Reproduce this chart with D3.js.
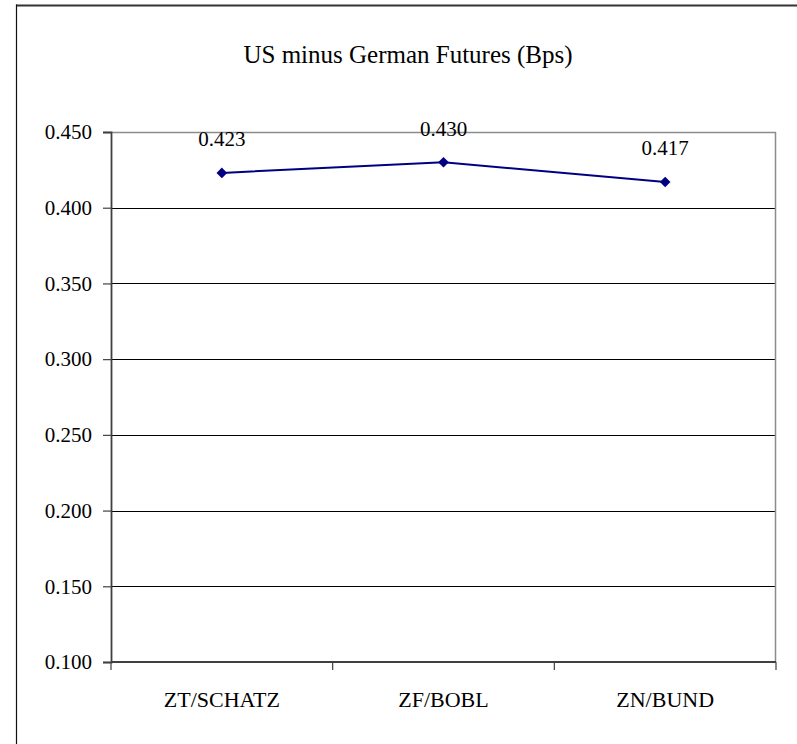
<!DOCTYPE html>
<html>
<head>
<meta charset="utf-8">
<script src="https://cdn.jsdelivr.net/npm/d3@7"></script>
<style>
  html, body { margin: 0; padding: 0; background: #fff; }
  svg { display: block; }
</style>
</head>
<body>
<svg id="chart" width="797" height="744"></svg>
<script>
// Spread of US over German futures, per contract pair
const categories = ["ZT/SCHATZ", "ZF/BOBL", "ZN/BUND"];
const spreadValues = [0.423, 0.430, 0.417];
const yTicks = [0.100, 0.150, 0.200, 0.250, 0.300, 0.350, 0.400, 0.450];
const titleText = "US minus German Futures (Bps)";

const FONT = "Liberation Serif";
const svg = d3.select("#chart");
const W = 797, H = 744;
const plot = { left: 111, right: 776, top: 132, bottom: 662 };

// Outer frame (top and left edges)
svg.append("line").attr("x1", 16).attr("x2", W).attr("y1", 5.5).attr("y2", 5.5)
  .attr("stroke", "#333").attr("stroke-width", 2);
svg.append("line").attr("x1", 16.5).attr("x2", 16.5).attr("y1", 4.5).attr("y2", H)
  .attr("stroke", "#111").attr("stroke-width", 1.2);

// Title
svg.append("text")
  .attr("x", 408).attr("y", 63)
  .attr("text-anchor", "middle")
  .attr("font-family", FONT)
  .attr("font-size", 25)
  .attr("fill", "#000")
  .text(titleText);

// Scales
const x = d3.scaleBand().domain(categories).range([plot.left, plot.right]).padding(0);
const y = d3.scaleLinear().domain([0.100, 0.450]).range([plot.bottom, plot.top]);

// Horizontal gridlines
svg.append("g").selectAll("line")
  .data(yTicks.filter(t => t > 0.100 && t < 0.450))
  .join("line")
  .attr("x1", plot.left).attr("x2", plot.right)
  .attr("y1", d => Math.round(y(d)) + 0.5).attr("y2", d => Math.round(y(d)) + 0.5)
  .attr("stroke", "#000").attr("stroke-width", 1);

// Plot area border: top and right in grey
svg.append("line").attr("x1", plot.left).attr("x2", plot.right)
  .attr("y1", plot.top + 0.5).attr("y2", plot.top + 0.5)
  .attr("stroke", "#8c8c8c").attr("stroke-width", 1.5);
svg.append("line").attr("x1", plot.right - 0.5).attr("x2", plot.right - 0.5)
  .attr("y1", plot.top).attr("y2", plot.bottom)
  .attr("stroke", "#8c8c8c").attr("stroke-width", 1.5);

// Y axis
const yAxis = d3.axisLeft(y).tickValues(yTicks).tickFormat(d3.format(".3f"))
  .tickSize(8).tickPadding(11);
const gy = svg.append("g").attr("transform", `translate(${plot.left},0)`).call(yAxis)
  .attr("font-family", FONT).attr("font-size", 21);
gy.select(".domain").attr("stroke", "#404040").attr("stroke-width", 1.8);
gy.selectAll(".tick line").attr("stroke", "#404040").attr("stroke-width", 1.2);
gy.selectAll(".tick text").attr("fill", "#000");

// X axis: ticks sit on the category boundaries
const boundaries = [plot.left].concat(categories.map(c => x(c) + x.bandwidth()));
const gx = svg.append("g").attr("font-family", FONT).attr("font-size", 22);
gx.append("line").attr("x1", plot.left).attr("x2", plot.right)
  .attr("y1", plot.bottom).attr("y2", plot.bottom)
  .attr("stroke", "#404040").attr("stroke-width", 1.8);
gx.selectAll("line.tick").data(boundaries).join("line").attr("class", "tick")
  .attr("x1", d => d).attr("x2", d => d)
  .attr("y1", plot.bottom).attr("y2", plot.bottom + 8)
  .attr("stroke", "#404040").attr("stroke-width", 1.2);
gx.selectAll("text").data(categories).join("text")
  .attr("x", d => x(d) + x.bandwidth() / 2)
  .attr("y", 707)
  .attr("text-anchor", "middle")
  .attr("fill", "#000")
  .text(d => d);

// Series line
const pts = categories.map((c, i) => ({ c, v: spreadValues[i] }));
svg.append("path")
  .datum(pts)
  .attr("fill", "none")
  .attr("stroke", "#000080")
  .attr("stroke-width", 2)
  .attr("d", d3.line().x(d => x(d.c) + x.bandwidth() / 2).y(d => y(d.v)));

// Diamond markers
const diamond = d3.symbol().type(d3.symbolDiamond2).size(72);
svg.append("g").selectAll("path")
  .data(pts)
  .join("path")
  .attr("transform", d => `translate(${x(d.c) + x.bandwidth() / 2},${y(d.v)})`)
  .attr("d", diamond)
  .attr("fill", "#000080");

// Value labels
svg.append("g").attr("font-family", FONT).attr("font-size", 21)
  .selectAll("text")
  .data(pts)
  .join("text")
  .attr("x", d => x(d.c) + x.bandwidth() / 2)
  .attr("y", d => y(d.v) - 26.5)
  .attr("text-anchor", "middle")
  .attr("fill", "#000")
  .text(d => d3.format(".3f")(d.v));
</script>
</body>
</html>
